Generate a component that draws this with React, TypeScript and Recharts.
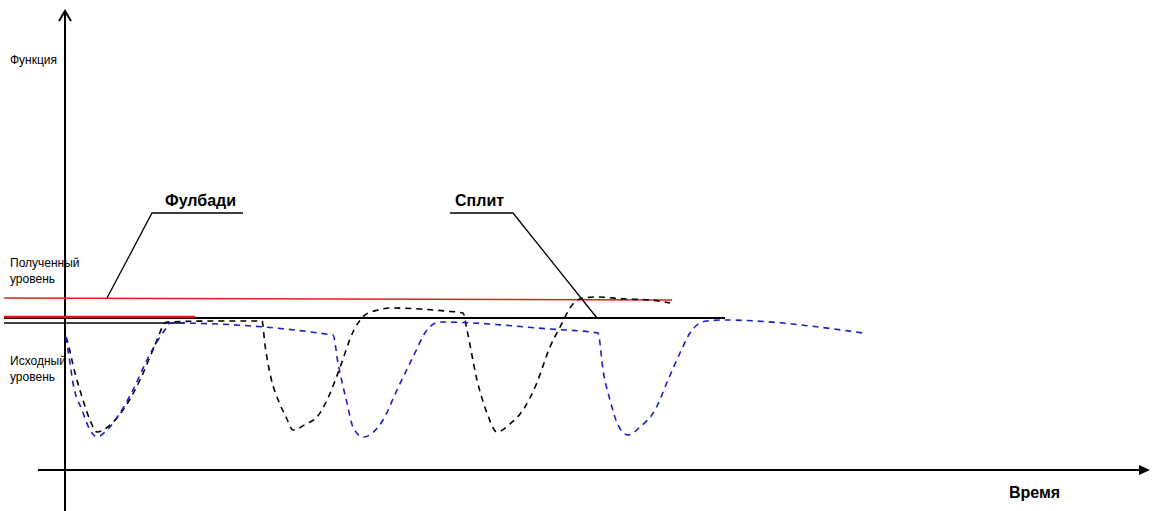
import React from "react";
import { LineChart, Line, XAxis, YAxis, ReferenceLine, ReferenceDot } from "recharts";

// время (t) и значение функции (v), условные единицы
const splitCurve = [
  { t: 0, v: 133 }, { t: 1, v: 130 }, { t: 9, v: 97 }, { t: 17, v: 70 }, { t: 24, v: 50 },
  { t: 31, v: 38 }, { t: 44, v: 45 }, { t: 57, v: 60 }, { t: 74, v: 90 }, { t: 87, v: 120 },
  { t: 101, v: 148 }, { t: 150, v: 149 }, { t: 196, v: 149 }, { t: 199, v: 125 }, { t: 205, v: 92 },
  { t: 213, v: 68 }, { t: 220, v: 53 }, { t: 227, v: 40 }, { t: 240, v: 46 }, { t: 251, v: 53 },
  { t: 262, v: 72 }, { t: 272, v: 97 }, { t: 288, v: 140 }, { t: 299, v: 155 }, { t: 312, v: 160 },
  { t: 324, v: 162 }, { t: 354, v: 161 }, { t: 379, v: 159 }, { t: 397, v: 157 }, { t: 401, v: 140 },
  { t: 411, v: 90 }, { t: 421, v: 57 }, { t: 431, v: 38 }, { t: 444, v: 46 }, { t: 457, v: 60 },
  { t: 470, v: 85 }, { t: 484, v: 123 }, { t: 494, v: 143 }, { t: 507, v: 166 }, { t: 517, v: 172 },
  { t: 530, v: 173 }, { t: 560, v: 171 }, { t: 584, v: 170 }, { t: 604, v: 167 },
];

const fullbodyCurve = [
  { t: 0, v: 133 }, { t: 4, v: 107 }, { t: 7, v: 87 }, { t: 16, v: 60 }, { t: 24, v: 40 },
  { t: 31, v: 33 }, { t: 41, v: 40 }, { t: 54, v: 57 }, { t: 67, v: 80 }, { t: 81, v: 110 },
  { t: 94, v: 133 }, { t: 101, v: 143 }, { t: 104, v: 147 }, { t: 267, v: 135 }, { t: 272, v: 107 },
  { t: 281, v: 67 }, { t: 287, v: 43 }, { t: 297, v: 33 }, { t: 317, v: 50 }, { t: 331, v: 80 },
  { t: 347, v: 113 }, { t: 361, v: 140 }, { t: 374, v: 148 }, { t: 484, v: 141 }, { t: 532, v: 137 },
  { t: 537, v: 100 }, { t: 544, v: 70 }, { t: 552, v: 45 }, { t: 562, v: 35 }, { t: 574, v: 43 },
  { t: 589, v: 60 }, { t: 602, v: 90 }, { t: 614, v: 117 }, { t: 624, v: 137 }, { t: 631, v: 145 },
  { t: 641, v: 149 }, { t: 657, v: 150 }, { t: 797, v: 137 },
];

// уровни
const reachedLevel = [{ t: -62, v: 172 }, { t: 606, v: 170 }];
const reachedShort = [{ t: -62, v: 153 }, { t: 129, v: 153 }];
const baseLevel = [{ t: -62, v: 152 }, { t: 659, v: 152 }];
const baseShort = [{ t: -62, v: 147 }, { t: 118, v: 147 }];

// выноски
const fullbodyLeader = [{ t: 41, v: 172 }, { t: 86, v: 257 }, { t: 177, v: 257 }];
const splitLeader = [{ t: 384, v: 257 }, { t: 447, v: 257 }, { t: 531, v: 152 }];

const font = "'Liberation Sans', Arial, sans-serif";

export default function App() {
  const small: React.CSSProperties = { position: "absolute", fontFamily: font, fontSize: 12, lineHeight: "16px", color: "#000" };
  const bold: React.CSSProperties = { position: "absolute", fontFamily: font, fontSize: 16, fontWeight: "bold", lineHeight: "18px", color: "#000" };
  const plain = { dot: false, activeDot: false, isAnimationActive: false } as const;
  return (
    <div style={{ position: "absolute", left: 0, top: 0, width: 1160, height: 511, background: "#fff" }}>
      <LineChart width={1160} height={511} margin={{ top: 0, right: 0, bottom: 0, left: 0 }}>
        <XAxis type="number" dataKey="t" domain={[-66, 1094]} hide />
        <YAxis type="number" dataKey="v" domain={[-41, 470]} hide />
        <ReferenceLine segment={[{ x: -28, y: 0 }, { x: 1082, y: 0 }]} stroke="#000" strokeWidth={2} />
        <ReferenceLine segment={[{ x: -1, y: -41 }, { x: -1, y: 458 }]} stroke="#000" strokeWidth={2} />
        <ReferenceDot x={1084} y={0} r={0}
          shape={(p: any) => <path d={`M${p.cx},${p.cy} L${p.cx - 11},${p.cy - 5} L${p.cx - 11},${p.cy + 5} Z`} fill="#000" />} />
        <ReferenceDot x={-1} y={459} r={0}
          shape={(p: any) => <path d={`M${p.cx - 6},${p.cy + 10} L${p.cx},${p.cy} L${p.cx + 6},${p.cy + 10}`} fill="none" stroke="#000" strokeWidth={2} />} />
        <Line data={reachedLevel} dataKey="v" stroke="#e0201c" strokeWidth={1.5} {...plain} />
        <Line data={baseShort} dataKey="v" stroke="#000" strokeWidth={1.5} {...plain} />
        <Line data={baseLevel} dataKey="v" stroke="#000" strokeWidth={2} {...plain} />
        <Line data={reachedShort} dataKey="v" stroke="#d81818" strokeWidth={2.5} {...plain} />
        <Line data={splitCurve} dataKey="v" type="monotone" stroke="#000" strokeWidth={1.6} strokeDasharray="6 5" {...plain} />
        <Line data={fullbodyCurve} dataKey="v" type="monotone" stroke="#1c1cc8" strokeWidth={1.6} strokeDasharray="6 5" {...plain} />
        <Line data={fullbodyLeader} dataKey="v" stroke="#000" strokeWidth={1.3} {...plain} />
        <Line data={splitLeader} dataKey="v" stroke="#000" strokeWidth={1.3} {...plain} />
      </LineChart>
      <div style={{ ...small, left: 10, top: 52 }}>Функция</div>
      <div style={{ ...small, left: 10, top: 255 }}>Полученный<br />уровень</div>
      <div style={{ ...small, left: 10, top: 353 }}>Исходный<br />уровень</div>
      <div style={{ ...bold, left: 165, top: 192 }}>Фулбади</div>
      <div style={{ ...bold, left: 455, top: 192 }}>Сплит</div>
      <div style={{ ...bold, left: 1009, top: 484 }}>Время</div>
    </div>
  );
}
